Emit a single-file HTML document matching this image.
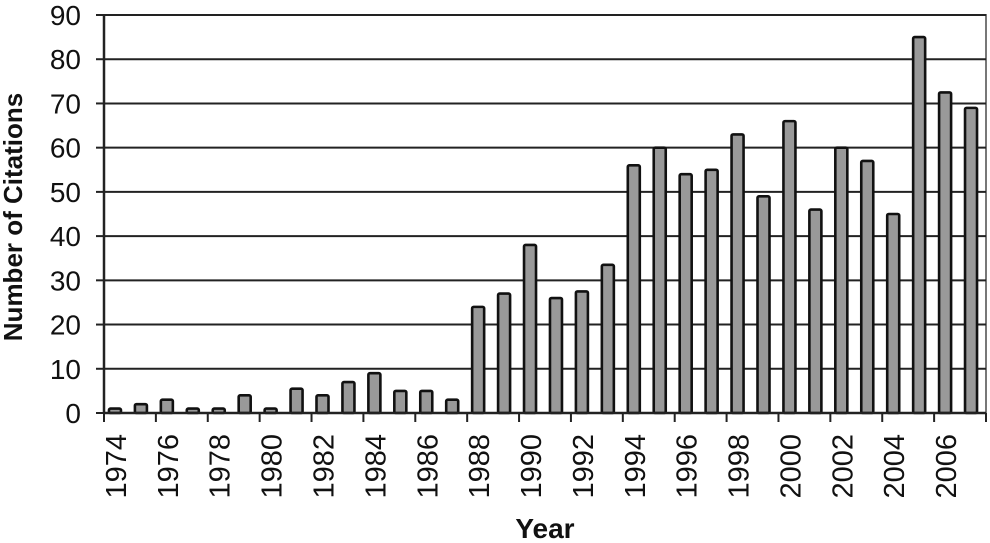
<!DOCTYPE html>
<html><head><style>body{margin:0;background:#fff}svg{display:block}text{font-family:"Liberation Sans",Arial,sans-serif;fill:#111}</style></head>
<body>
<svg width="990" height="543" xmlns="http://www.w3.org/2000/svg">
<g id="g"></g>
</svg>
<script>
const vals=[1,2,3,1,1,4,1,5.5,4,7,9,5,5,3,24,27,38,26,27.5,33.5,56,60,54,55,63,49,66,46,60,57,45,85,72.5,69];
const L=104,R=986,T=15,B=413,n=34,cw=(R-L)/n,k=(B-T)/90;
let s='';
s+=`<rect x="${L}" y="${T}" width="${R-L}" height="${B-T}" fill="none" stroke="#777" stroke-width="2"/>`;
for(let i=1;i<=9;i++){const y=B-i*10*k;s+=`<line x1="${L}" x2="${R}" y1="${y}" y2="${y}" stroke="#222" stroke-width="2"/>`;}
for(let i=0;i<=9;i++){const y=B-i*10*k;s+=`<line x1="${L-8}" x2="${L}" y1="${y}" y2="${y}" stroke="#222" stroke-width="2"/><text x="${L-23}" y="${y+10}" font-size="28" text-anchor="end">${i*10}</text>`;}
vals.forEach((v,i)=>{const cx=L+(i+0.5)*cw-2,h=v*k;s+=`<rect x="${cx-6}" y="${B-h}" width="12" height="${h}" fill="#999" stroke="#111" stroke-width="2.6" rx="1.5"/>`;});
s+=`<line x1="${L}" x2="${L}" y1="${T}" y2="${B}" stroke="#222" stroke-width="2.5"/><line x1="${L}" x2="${R}" y1="${B}" y2="${B}" stroke="#222" stroke-width="2.5"/>`;
for(let i=0;i<=n;i+=2){const x=L+i*cw;s+=`<line x1="${x}" x2="${x}" y1="${B}" y2="${B+9}" stroke="#222" stroke-width="2"/>`;}
for(let i=0;i<n;i+=2){const x=L+(i+0.5)*cw-2;s+=`<text transform="translate(${x+11},${434}) rotate(-90)" font-size="29" text-anchor="end">${1974+i}</text>`;}
s+=`<text transform="translate(22,217) rotate(-90)" font-size="26" font-weight="bold" text-anchor="middle">Number of Citations</text>`;
s+=`<text x="545" y="538" font-size="28" font-weight="bold" text-anchor="middle">Year</text>`;
document.getElementById('g').innerHTML=s;
</script>
</body></html>
